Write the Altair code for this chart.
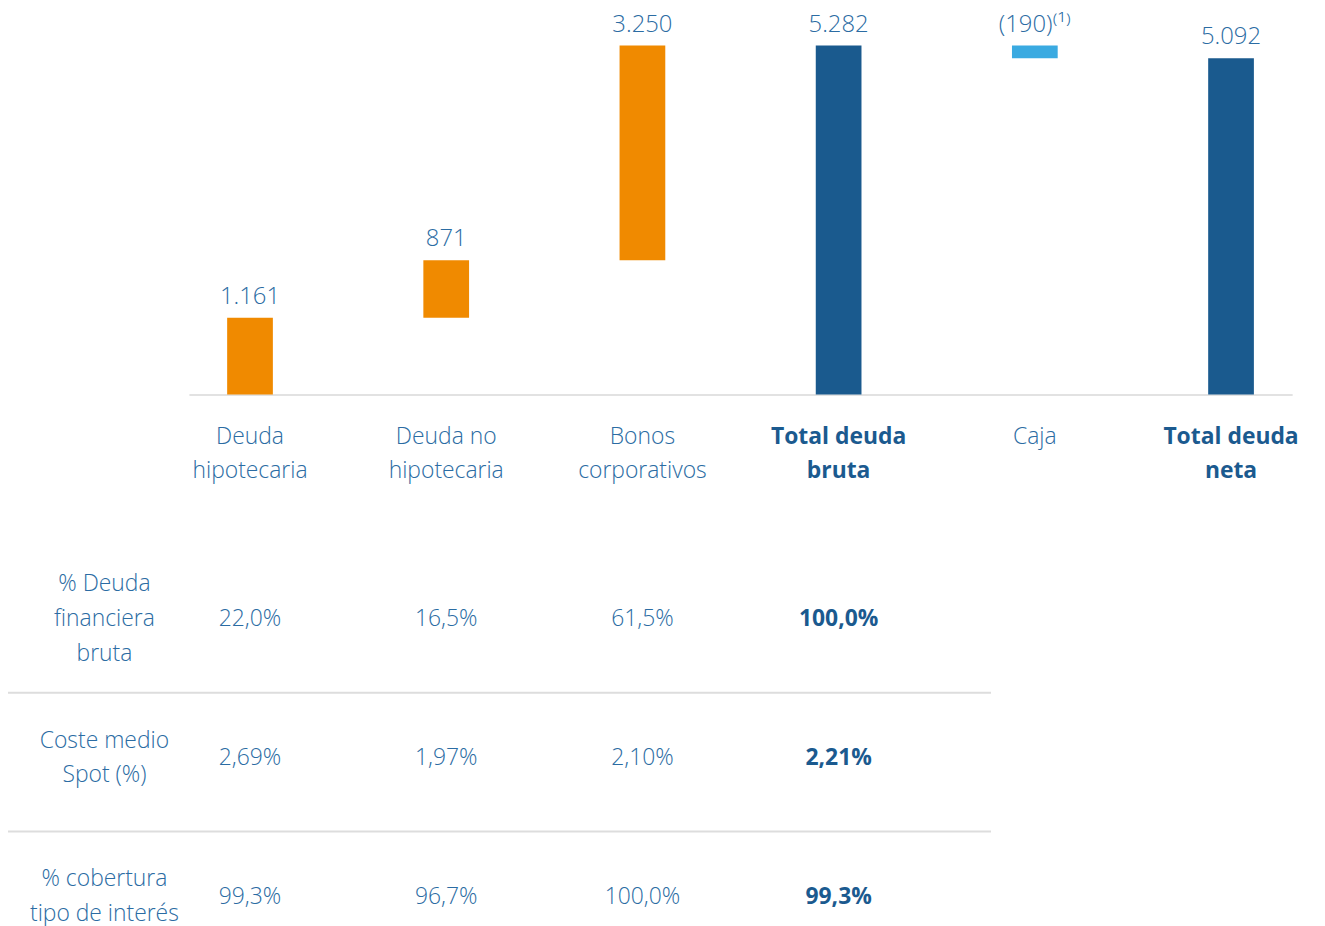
import altair as alt
import pandas as pd

# ---- data ----
categories = ["Deuda\nhipotecaria", "Deuda no\nhipotecaria", "Bonos\ncorporativos",
              "Total deuda\nbruta", "Caja", "Total deuda\nneta"]
amounts = [1161, 871, 3250, 5282, -190, 5092]
kinds = ["step", "step", "step", "total", "cash", "total"]
value_labels = ["1.161", "871", "3.250", "5.282", "(190)\u207d\u00b9\u207e", "5.092"]

row_labels = ["% Deuda\nfinanciera\nbruta", "Coste medio\nSpot (%)", "% cobertura\ntipo de interés"]
pct_debt = ["22,0%", "16,5%", "61,5%", "100,0%"]
avg_cost = ["2,69%", "1,97%", "2,10%", "2,21%"]
hedge = ["99,3%", "96,7%", "100,0%", "99,3%"]

# ---- build waterfall table ----
rows = []
running = 0
for cat, amt, kind, lab in zip(categories, amounts, kinds, value_labels):
    if kind == "total":
        start, end = 0, amt
    else:
        start, end = running, running + amt
    running = end
    rows.append({"cat": cat, "start": start, "end": end, "kind": kind,
                 "top": max(start, end), "label": lab})
bars_df = pd.DataFrame(rows)

table_rows = []
for rlab, vals in zip(row_labels, [pct_debt, avg_cost, hedge]):
    for i, v in enumerate(vals):
        table_rows.append({"row": rlab, "cat": categories[i], "val": v,
                           "bold": categories[i].startswith("Total")})
table_df = pd.DataFrame(table_rows)
rowhead_df = pd.DataFrame({"row": row_labels,
                           "nlines": [len(r.split("\n")) for r in row_labels]})
sep_df = pd.DataFrame({"row": row_labels[1:]})

FONT = "Open Sans"
TXT = "#2b6ca3"
BOLD = "#1b5a8f"
LH = 35

x_enc = alt.X(
    "cat:N",
    scale=alt.Scale(domain=categories, range=[182, 1292], paddingInner=0.767, paddingOuter=0.195),
    axis=alt.Axis(
        orient="bottom", offset=-532, title=None, ticks=False,
        domainColor="#d9d9d9", domainWidth=1.5,
        labelExpr="split(datum.label, '\\n')",
        labelAngle=0, labelFont=FONT, labelFontSize=23, labelLineHeight=LH,
        labelPadding=31, labelBaseline="top",
        labelColor={"condition": {"test": "indexof(datum.value, 'Total') == 0", "value": BOLD}, "value": TXT},
        labelFontWeight={"condition": {"test": "indexof(datum.value, 'Total') == 0", "value": "bold"}, "value": 300},
    ),
)

y_scale = alt.Scale(domain=[0, 5809], range=[386, 0], nice=False, zero=False)

bars = alt.Chart(bars_df).mark_bar().encode(
    x=x_enc,
    y=alt.Y("start:Q", scale=y_scale, axis=None),
    y2="end:Q",
    color=alt.Color("kind:N", scale=alt.Scale(domain=["step", "total", "cash"],
                                              range=["#f08a00", "#1a5a8e", "#3aaae1"]), legend=None),
)

bar_labels = alt.Chart(bars_df).mark_text(
    font=FONT, fontSize=24, fontWeight=300, color=TXT, baseline="alphabetic", dy=-14
).encode(
    x=x_enc,
    y=alt.Y("top:Q", scale=y_scale, axis=None),
    text="label:N",
)

row_scale = alt.Scale(domain=row_labels, range=[542.5, 961], paddingInner=0, paddingOuter=0)

table_bold = alt.Chart(table_df).transform_filter("datum.bold").mark_text(
    font=FONT, fontSize=23, fontWeight="bold", baseline="middle", color=BOLD
).encode(
    x=x_enc,
    y=alt.Y("row:N", scale=row_scale, axis=None),
    text="val:N",
)
table_norm = alt.Chart(table_df).transform_filter("!datum.bold").mark_text(
    font=FONT, fontSize=23, fontWeight=300, baseline="middle", color=TXT
).encode(
    x=x_enc,
    y=alt.Y("row:N", scale=row_scale, axis=None),
    text="val:N",
)

def row_head_layer(n):
    return alt.Chart(rowhead_df).transform_filter(f"datum.nlines == {n}").mark_text(
        font=FONT, fontSize=23, fontWeight=300, baseline="middle", align="center",
        color=TXT, lineBreak="\n", lineHeight=LH, dy=-(n - 1) * LH / 2
    ).encode(
        x=alt.value(97),
        y=alt.Y("row:N", scale=row_scale, axis=None),
        text="row:N",
    )

seps = alt.Chart(sep_df).mark_rule(color="#dddddd", strokeWidth=2).encode(
    x=alt.value(-3), x2=alt.value(989),
    y=alt.Y("row:N", scale=row_scale, axis=None, bandPosition=0.03),
)

chart = alt.layer(
    bars, bar_labels, seps, table_norm, table_bold, row_head_layer(2), row_head_layer(3)
).resolve_scale(y="independent").properties(
    width=1317, height=918, padding=0,
    autosize=alt.AutoSizeParams(type="none"),
).configure(background="white").configure_view(stroke=None, strokeWidth=0)

chart.save("out.html", embed_options={"renderer": "svg", "actions": False})
